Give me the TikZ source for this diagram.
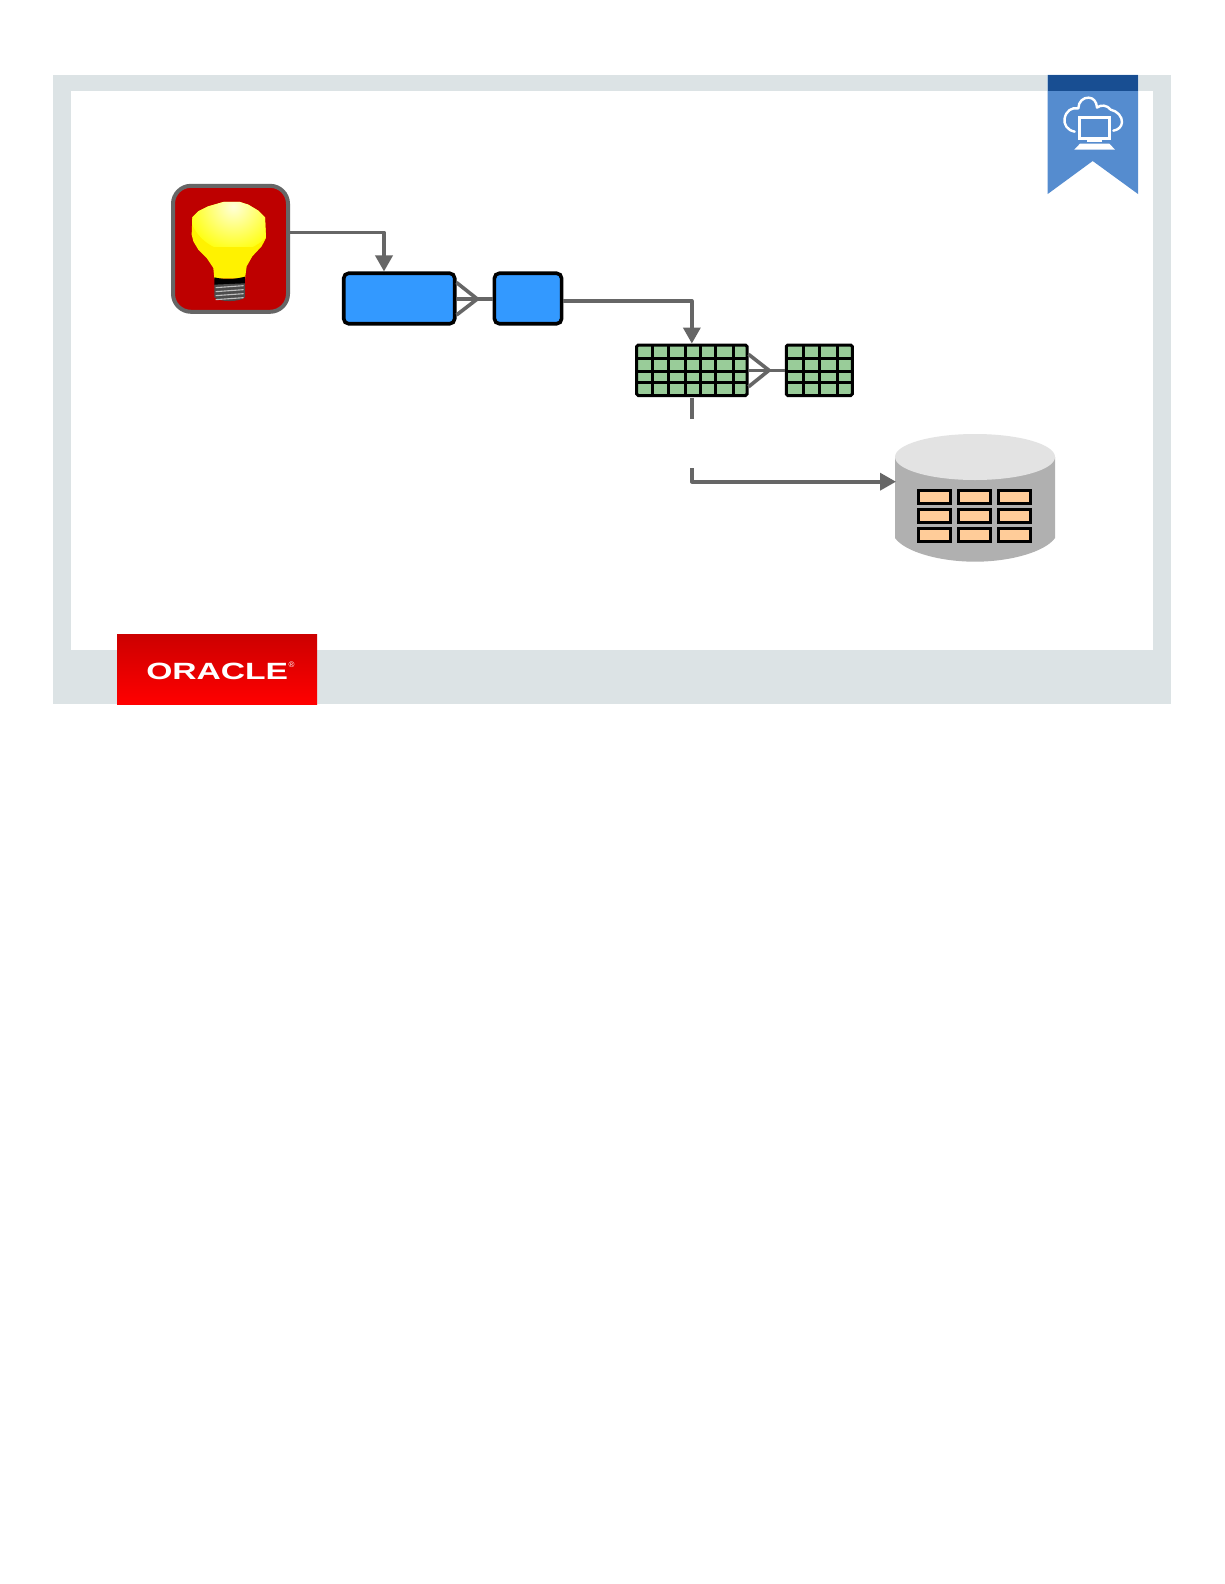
\documentclass[tikz,border=0pt]{standalone}
\usepackage{fontspec}
\setmainfont{Liberation Sans}
\usetikzlibrary{arrows.meta}
\definecolor{framec}{HTML}{DCE3E5}
\definecolor{ribbonc}{HTML}{558CCF}
\definecolor{ribbond}{HTML}{184E92}
\definecolor{linec}{HTML}{666666}
\definecolor{bulbred}{HTML}{BE0000}
\definecolor{boxblue}{HTML}{3399FF}
\definecolor{gridgreen}{HTML}{99CC99}
\definecolor{cellorange}{HTML}{FFCC99}
\tikzset{
  conn/.style={draw=linec,line width=3.6pt,line join=round},
  arrowconn/.style={conn,-{Triangle[length=16pt,width=17pt,fill=linec]}},
  bluebox/.style={draw=black,fill=boxblue,line width=3.6pt,rounded corners=5pt,inner sep=0pt},
  gridbox/.style={draw=black,fill=gridgreen,line width=3pt,rounded corners=1.5pt,inner sep=0pt},
  gridline/.style={draw=black,line width=3pt},
  cellbox/.style={draw=black,fill=cellorange,line width=3.4pt,inner sep=0pt,minimum width=32pt,minimum height=12.6pt},
  iconline/.style={draw=white,line width=2.4pt,line cap=round,line join=round}
}
\begin{document}
\begin{tikzpicture}[x=1pt,y=-1pt]
\useasboundingbox (0,0) rectangle (1224,1584);
\fill[white] (0,0) rectangle (1224,1584);
% frame
\fill[framec] (52.7,75) rectangle (1170.7,704);
\fill[white] (71,90.7) rectangle (1153,650);
% ribbon
\fill[ribbonc] (1047.7,75) -- (1138,75) -- (1138,194) -- (1092.7,161) -- (1047.7,194) -- cycle;
\fill[ribbond] (1047.7,75) rectangle (1138,90.7);
\begin{scope}[shift={(1030,65)},x=0.3333pt,y=-0.3333pt]
  \draw[iconline] (134,200) .. controls (112,196) and (100,178) .. (104,160)
     .. controls (108,138) and (125,126) .. (145,130)
     .. controls (145,110) and (160,97) .. (176,98)
     .. controls (190,98) and (200,110) .. (201,128)
     .. controls (212,118) and (232,120) .. (242,134)
     .. controls (262,138) and (277,155) .. (276,172)
     .. controls (275,186) and (264,195) .. (250,197);
  \fill[ribbonc] (140,152) rectangle (245,226);
  \draw[white,line width=2.4pt] (148,158) rectangle (238,220);
  \fill[white] (172,224) rectangle (215,231);
  \fill[white] (150,236) -- (238,236) -- (255,254) -- (133,254) -- cycle;
\end{scope}
% oracle logo
\shade[top color=red!80!black,bottom color=red,middle color=red!90!black] (117,634) rectangle (317,704);
\node[text=white,inner sep=0pt,font=\bfseries\fontsize{23.5}{24}\selectfont,xscale=1.43] (oracle) at (217.2,671) {ORACLE};
\node[text=white,inner sep=0pt,font=\fontsize{8}{8}\selectfont] (reg) at (291.5,664.5) {®};
% bulb
\node[draw=linec,fill=bulbred,line width=4pt,rounded corners=18pt,inner sep=0pt,minimum width=115pt,minimum height=126pt] (bulb) at (230.5,248.8) {};
\begin{scope}[shift={(165,178)},x=0.3333pt,y=-0.3333pt]
  \def\bulbpath{(175,72) -- (225,72) -- (250,80) -- (280,98) -- (300,118) -- (303,180) -- (290,205) -- (262,235) -- (245,265) -- (240,302) -- (148,302) -- (145,270) -- (125,240) -- (100,215) -- (85,190) -- (80,170) -- (82,118) -- (100,100) -- (130,85) -- cycle}
  \fill[yellow] \bulbpath;
  \begin{scope}
    \clip \bulbpath;
    \clip (60,60) rectangle (320,205);
    \shade[inner color=yellow!15!white,outer color=yellow!92!white] (205,85) circle (135);
  \end{scope}
  \fill[black] (148,298) .. controls (180,306) and (210,304) .. (240,296) -- (240,318) -- (148,322) -- cycle;
  \fill[black!70] (148,320) -- (240,316) -- (240,358) .. controls (225,372) and (165,374) .. (148,358) -- cycle;
  \foreach \yy in {326,338,350,362}
    \draw[white!75!black,line width=1.1pt] (152,\yy+3) -- (236,\yy-3);
\end{scope}
% blue boxes
\node[bluebox,minimum width=111pt,minimum height=50.5pt] (box1) at (399.2,298.5) {};
\node[bluebox,minimum width=67.2pt,minimum height=50.5pt] (box2) at (528,298.5) {};
\coordinate (apex1) at (477.3,299);
\draw[conn] (box1.east|-apex1) -- (box2.west|-apex1);
\draw[conn] ([yshift=16pt]box1.east) -- (apex1) -- ([yshift=-16.5pt]box1.east);
\draw[arrowconn] ([yshift=16.5pt]bulb.east) -| ([xshift=-15.2pt]box1.north);
% tables
\node[gridbox,minimum width=110.3pt,minimum height=50.5pt] (t1) at (691.85,370.3) {};
\node[gridbox,minimum width=66pt,minimum height=50.5pt] (t2) at (819.3,370.3) {};
\foreach \xx in {652.7,668.3,685.7,700.3,715.7,733.7}
  \draw[gridline] (\xx,345) -- (\xx,395.6);
\foreach \yy in {358.7,371.5,382.8}{
  \draw[gridline] (637,\yy) -- (747,\yy);
  \draw[gridline] (786.5,\yy) -- (852,\yy);
}
\foreach \xx in {803.7,819.7,837.7}
  \draw[gridline] (\xx,345) -- (\xx,395.6);
\coordinate (apex2) at (769,370.3);
\draw[conn] (t1.east) -- (t2.west);
\draw[conn] ([yshift=16pt]t1.east) -- (apex2) -- ([yshift=-16.5pt]t1.east);
\draw[arrowconn] ([yshift=-2.5pt]box2.east) -| (t1.north);
% database
\fill[black!31] (895,457) -- (895,538) .. controls (905,552) and (940,561.7) .. (975,561.7) .. controls (1010,561.7) and (1045,552) .. (1055,538) -- (1055,457) -- cycle;
\fill[black!11] (975,457) ellipse (80 and 23);
\coordinate (db) at (896,481.7);
\foreach \cx/\rowname in {934.3/a,974.7/b,1014.7/c}
  \foreach \cy in {497,516,535}
    \node[cellbox] (cell\rowname\cy) at (\cx,\cy) {};
% dashed connector to database
\coordinate (gapa) at (691.85,418.7);
\coordinate (gapb) at (691.85,468);
\draw[conn] ([yshift=-1.3pt]t1.south) -- (gapa);
\draw[arrowconn] (gapb) |- (db);
\end{tikzpicture}
\end{document}
